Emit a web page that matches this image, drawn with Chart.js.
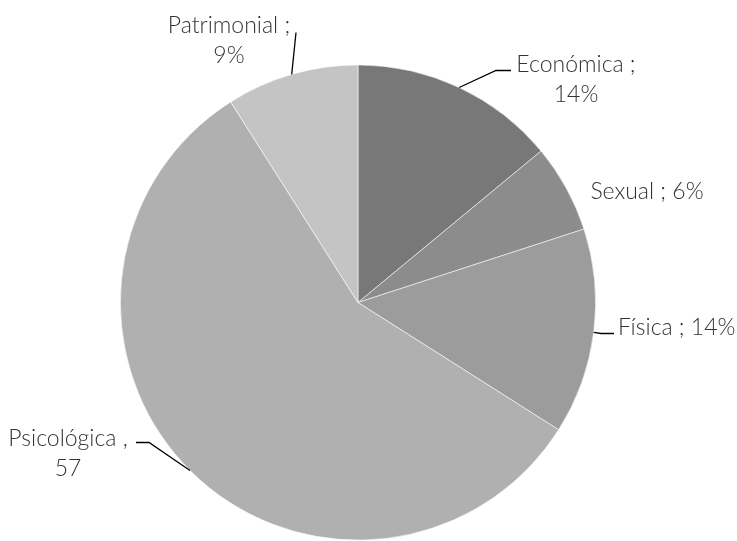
<!DOCTYPE html>
<html><head><meta charset="utf-8">
<script src="https://cdn.jsdelivr.net/npm/chart.js@4"></script>
<style>html,body{margin:0;padding:0;background:#fff;}#wrap{width:737px;height:541px;}</style>
</head><body><div id="wrap"><canvas id="c" width="737" height="541"></canvas></div>
<script>
const categories = ['Económica', 'Sexual', 'Física', 'Psicológica', 'Patrimonial'];
const values = [14, 6, 14, 57, 9];
const labelLines = [['Económica ;', '14%'], ['Sexual ; 6%'], ['Física ; 14%'], ['Psicológica ,', '57'], ['Patrimonial ;', '9%']];
const colors = ['#787878', '#8c8c8c', '#9c9c9c', '#b0b0b0', '#c4c4c4'];

// label layout: text anchor offsets relative to pie center, and leader elbows (relative to center)
const labelLayout = [
  {tx: 218, ty: -238, align: 'center', leader: [[138, -232], [153, -232]]},
  {tx: 289, ty: -111, align: 'center', leader: null},
  {tx: 260, ty: 25, align: 'left', leader: [[243, 31], [256, 31]]},
  {tx: -290, ty: 136, align: 'center', leader: [[-209, 140], [-222, 140]]},
  {tx: -129, ty: -277, align: 'center', leader: [[-62, -270]]}
];

const FONT = '300 23px Lato, "Open Sans", sans-serif';
const labelPlugin = {
  id: 'pieLabels',
  afterDatasetsDraw(chart) {
    const ctx = chart.ctx;
    const meta = chart.getDatasetMeta(0);
    ctx.save();
    ctx.font = FONT;
    ctx.fillStyle = '#333333';
    ctx.strokeStyle = '#000';
    ctx.lineWidth = 1.3;
    meta.data.forEach((arc, i) => {
      const p = arc.getProps(['x', 'y', 'startAngle', 'endAngle', 'outerRadius'], true);
      const mid = (p.startAngle + p.endAngle) / 2;
      const L = labelLayout[i];
      if (L.leader) {
        const sx = p.x + Math.cos(mid) * p.outerRadius;
        const sy = p.y + Math.sin(mid) * p.outerRadius;
        ctx.beginPath();
        ctx.moveTo(sx, sy);
        L.leader.forEach(pt => ctx.lineTo(p.x + pt[0], p.y + pt[1]));
        ctx.stroke();
      }
      const lines = labelLines[i];
      ctx.textAlign = L.align;
      ctx.textBaseline = 'middle';
      lines.forEach((t, k) => {
        ctx.fillText(t, p.x + L.tx, p.y + L.ty + k * 30);
      });
    });
    ctx.restore();
  }
};

new Chart(document.getElementById('c'), {
  type: 'pie',
  data: {
    labels: categories,
    datasets: [{data: values, backgroundColor: colors, borderColor: 'rgba(255,255,255,0.7)', borderWidth: 0.8}]
  },
  options: {
    responsive: false,
    animation: false,
    layout: {padding: {top: 64, bottom: 0, left: 120, right: 141}},
    plugins: {legend: {display: false}, tooltip: {enabled: false}}
  },
  plugins: [labelPlugin]
});
</script></body></html>
